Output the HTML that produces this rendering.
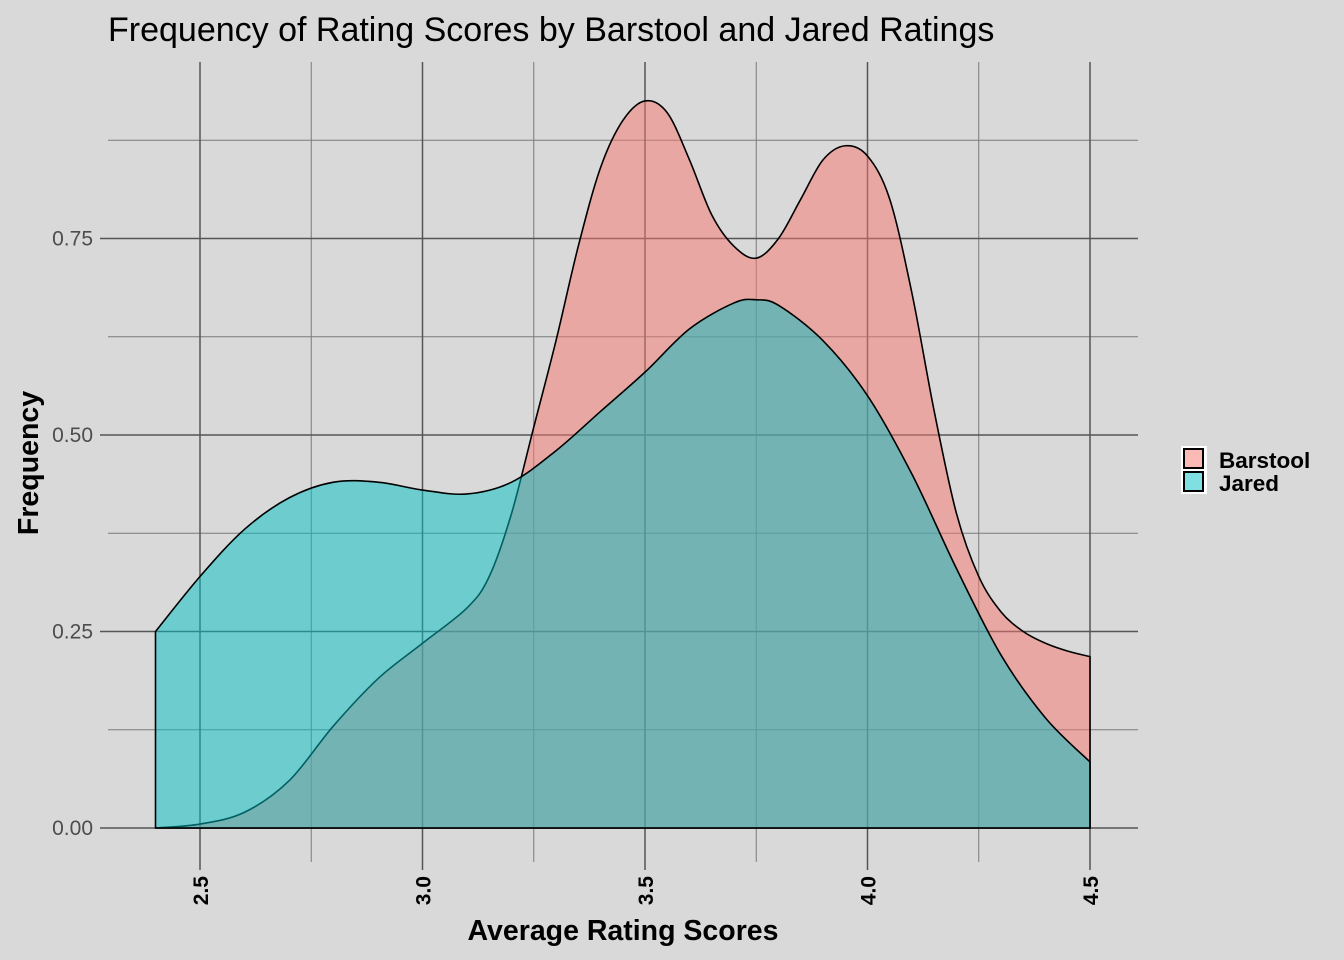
<!DOCTYPE html>
<html><head><meta charset="utf-8"><style>
body{margin:0;background:#d9d9d9;}
svg{display:block;font-family:"Liberation Sans",sans-serif;}
</style></head><body>
<svg id="chart" width="1344" height="960">
<rect width="1344" height="960" fill="#d9d9d9"/>
<text x="108" y="41" font-size="34" fill="#000">Frequency of Rating Scores by Barstool and Jared Ratings</text>
<g id="grid"></g>
<g id="series"></g>
<g id="axes"></g>
<text x="623" y="940" font-size="28.5" font-weight="bold" text-anchor="middle">Average Rating Scores</text>
<text transform="translate(38,463) rotate(-90)" font-size="28.5" font-weight="bold" text-anchor="middle">Frequency</text>
<g>
<rect x="1181" y="446" width="26" height="48" fill="#fff"/>
<rect x="1184" y="449" width="19" height="19" fill="#F8766D" fill-opacity="0.5" stroke="#000" stroke-width="2"/>
<rect x="1184" y="472" width="19" height="19" fill="#00BFC4" fill-opacity="0.5" stroke="#000" stroke-width="2"/>
<text x="1219" y="468" font-size="22.5" font-weight="bold">Barstool</text>
<text x="1219" y="491" font-size="22.5" font-weight="bold">Jared</text>
</g>
</svg>
<script>
const xValues = [2.4,2.5,2.6,2.7,2.8,2.9,3.0,3.1,3.15,3.2,3.25,3.3,3.35,3.4,3.45,3.5,3.55,3.6,3.65,3.7,3.75,3.8,3.85,3.9,3.95,4.0,4.05,4.1,4.15,4.2,4.25,4.3,4.35,4.4,4.45,4.5];
const barstool = [0,0.005,0.02,0.06,0.13,0.19,0.235,0.28,0.32,0.40,0.51,0.62,0.74,0.84,0.90,0.925,0.91,0.85,0.78,0.74,0.725,0.75,0.80,0.85,0.868,0.855,0.80,0.68,0.53,0.40,0.32,0.275,0.25,0.235,0.225,0.218];
const jaredX = [2.4,2.5,2.6,2.7,2.8,2.9,3.0,3.1,3.2,3.3,3.4,3.5,3.6,3.7,3.75,3.8,3.9,4.0,4.1,4.2,4.3,4.4,4.5];
const jared = [0.25,0.32,0.38,0.42,0.44,0.44,0.43,0.425,0.44,0.48,0.53,0.58,0.635,0.668,0.672,0.665,0.62,0.55,0.45,0.33,0.22,0.14,0.084];
const xTicks = [2.5,3.0,3.5,4.0,4.5];
const xTickLabels = ["2.5","3.0","3.5","4.0","4.5"];
const yTicks = [0,0.25,0.5,0.75];
const yTickLabels = ["0.00","0.25","0.50","0.75"];
const NS="http://www.w3.org/2000/svg";
const sx=v=>200+(v-2.5)*445;
const sy=v=>828-v*786;
function mk(tag,attrs,parent){const e=document.createElementNS(NS,tag);for(const k in attrs)e.setAttribute(k,attrs[k]);parent.appendChild(e);return e;}
const grid=document.getElementById('grid'),axes=document.getElementById('axes'),series=document.getElementById('series');
for(let i=0;i<yTicks.length;i++){const v=yTicks[i]+0.125;const l=mk('line',{x1:108,x2:1138,y1:sy(v),y2:sy(v),stroke:'#7a7a7a','stroke-width':1},grid);
}
for(let i=0;i<xTicks.length-1;i++){const v=xTicks[i]+0.25;const l=mk('line',{x1:sx(v),x2:sx(v),y1:62,y2:862,stroke:'#7a7a7a','stroke-width':1},grid);
}
yTicks.forEach((v,i)=>{const l=mk('line',{x1:100,x2:1138,y1:sy(v),y2:sy(v),stroke:'#555','stroke-width':1.5},grid);

const t=mk('text',{x:93,y:sy(v)+7,'font-size':21,fill:'#4d4d4d','text-anchor':'end'},axes);t.textContent=yTickLabels[i];
});
xTicks.forEach((v,i)=>{const l=mk('line',{x1:sx(v),x2:sx(v),y1:62,y2:870,stroke:'#555','stroke-width':1.5},grid);

const t=mk('text',{transform:`translate(${sx(v)+8},876) rotate(-90)`,'font-size':21,'font-weight':'bold','text-anchor':'end'},axes);t.textContent=xTickLabels[i];
});
function smooth(xs,ys){const p=xs.map((x,i)=>[sx(x),sy(ys[i])]);let d=`M${p[0][0]},${p[0][1]}`;
for(let i=0;i<p.length-1;i++){const p0=p[Math.max(0,i-1)],p1=p[i],p2=p[i+1],p3=p[Math.min(p.length-1,i+2)];
d+=` C${p1[0]+(p2[0]-p0[0])/6},${p1[1]+(p2[1]-p0[1])/6} ${p2[0]-(p3[0]-p1[0])/6},${p2[1]-(p3[1]-p1[1])/6} ${p2[0]},${p2[1]}`;}return d;}
function area(xs,ys,color,name){const c=smooth(xs,ys);const d=c+` L${sx(xs[xs.length-1])},${sy(0)} L${sx(xs[0])},${sy(0)} Z`;
const a=mk('path',{d:d,fill:color,'fill-opacity':0.5,stroke:'#000','stroke-width':1.6},series);
}
area(xValues,barstool,'#F8766D','barstool-density');
area(jaredX,jared,'#00BFC4','jared-density');
</script>
</body></html>
